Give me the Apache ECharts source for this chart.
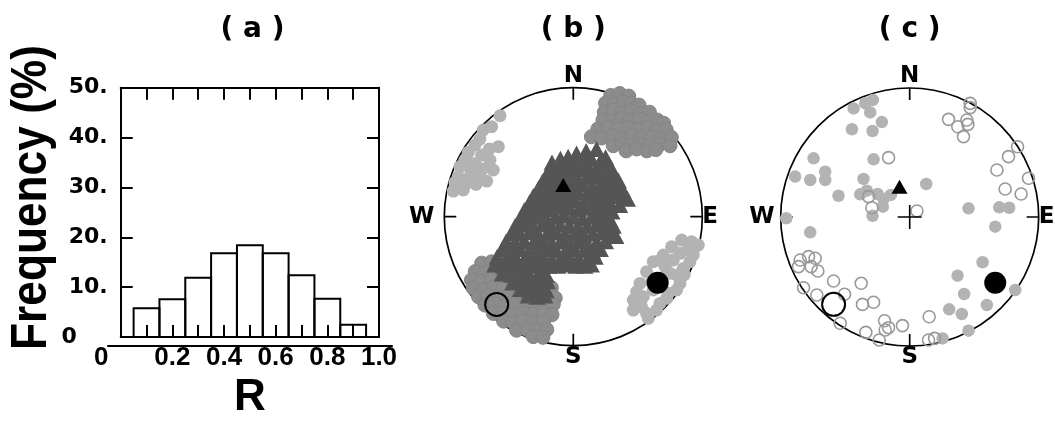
<!DOCTYPE html>
<html><head><meta charset="utf-8">
<script src="https://cdn.jsdelivr.net/npm/echarts/dist/echarts.min.js"></script>
<style>html,body{margin:0;padding:0;background:#fff}#chart{width:1055px;height:425px}</style>
</head><body><div id="chart"></div>
<script>
// ---------- (a) histogram of R ----------
const binCenters = [0.1, 0.2, 0.3, 0.4, 0.5, 0.6, 0.7, 0.8, 0.9];
const binWidth = 0.1;
const frequency = [5.8, 7.6, 11.9, 16.8, 18.4, 16.8, 12.4, 7.7, 2.5];
const xTickLabels = ['0', '', '0.2', '', '0.4', '', '0.6', '', '0.8', '', '1.0'];
const yTickLabels = ['0', '10.', '20.', '30.', '40.', '50.'];
const compassLabels = ['N', 'E', 'S', 'W'];

// ---------- (b) stereonet (x = east, y = north, % of primitive radius) ----------
const bNWCircles = [[-56.8,78.3],[-63.3,69.8],[-69.8,67.2],[-72.4,60.2],[-76.2,55.6],[-65.1,52.5],[-58.1,54.3],[-81.4,49.9],[-71.1,47.8],[-64.6,43.9],[-84.0,43.9],[-76.2,41.3],[-87.9,38.8],[-79.6,36.2],[-70.3,37.0],[-62.0,36.2],[-89.1,31.0],[-81.4,29.7],[-72.9,32.3],[-67.2,27.6],[-91.7,26.6],[-84.0,24.5],[-75.5,25.1],[-93.0,19.9],[-85.3,20.7]];
const bSECircles = [[84.0,-18.1],[91.7,-19.4],[96.9,-22.0],[76.2,-23.3],[89.1,-25.8],[82.7,-28.4],[93.0,-29.7],[69.8,-29.7],[77.5,-33.6],[90.4,-34.9],[62.0,-34.9],[71.1,-38.8],[85.3,-40.1],[56.8,-42.6],[80.1,-45.2],[51.7,-51.7],[60.7,-50.4],[82.7,-51.7],[49.1,-58.1],[54.3,-62.0],[73.6,-59.4],[80.1,-56.8],[46.5,-64.6],[53.0,-69.8],[67.2,-67.2],[72.4,-63.3],[46.5,-72.4],[56.8,-74.9],[64.6,-72.4],[58.1,-78.8],[67.2,-33.6],[74.9,-43.9],[62.0,-56.8],[68,-48],[86,-45]];
const bNEClouds = [[29,94],[36,95.5],[43,93.5],[25,88],[32,87],[39,89],[45,88],[51,86.5],[24,81],[31,82.5],[38,80.5],[45,82],[52,80],[59,81],[23,75],[30,74],[37,76],[44,74.5],[51,75.5],[58,74],[65,75],[70,72.5],[19,68],[27,69.5],[35,68],[43,69],[50,67.5],[58,69],[65,67],[72,67.5],[14,62],[22,61],[30,62.5],[37.5,61],[45,63],[53,61.5],[61,62],[68,60.5],[76,61.5],[31,55],[38,56.5],[44,55],[52,56],[59,54.5],[67,56],[75,55],[41,51],[49,52.5],[57,51],[64,52]];
const bSWClouds = [[-71,-36],[-63.5,-35],[-76,-42.5],[-68.5,-43.5],[-61,-42],[-53,-43],[-79,-49],[-71,-50],[-63.5,-48.5],[-55.5,-50],[-48,-49],[-77.5,-55.5],[-70,-56.5],[-62,-55],[-54.5,-56],[-46.5,-55],[-39,-56.5],[-31,-55.5],[-23.5,-56],[-17,-55],[-73.5,-62],[-66,-61],[-58,-62.5],[-50.5,-61.5],[-42.5,-62.5],[-35,-61.5],[-27,-62.5],[-19.5,-61.5],[-14,-63],[-68.5,-68.5],[-61,-67.5],[-53,-69],[-45,-68],[-37.5,-69],[-29.5,-68],[-22,-69.5],[-15.5,-68],[-62,-75],[-54.5,-74.5],[-46.5,-75.5],[-39,-74.5],[-31,-75.5],[-23.5,-74.5],[-16.5,-76],[-54,-81],[-46.5,-82],[-39,-81],[-31,-82],[-23,-81.5],[-44,-88],[-36,-87.5],[-28.5,-88.5],[-20.5,-87.5],[-31,-93],[-23.5,-93.5]];
const bTriangles = [
[-16.5,42],[-10,45],[-4,46.5],[2.5,49],[10,51],[18,52.5],[25,46],
[-18,37],[-12,39],[-6,41],[1,42],[8,44],[14,45],[21,43],[28,40],
[-21,32],[-14,34],[-8,35],[-1,36],[6,37],[12,38],[19,37],[25,35],[31,34],
[-24,27],[-17,28],[-10,29],[-4,30],[3,30],[10,31],[16,31],[23,29],[29,28],[35,28],
[-27,22],[-21,23],[-14,23],[-7,24],[0,24],[7,25],[14,24],[20,23],[27,22],[33,22],[38,21],
[-31,16],[-24,17],[-17,17],[-10,18],[-3,18],[4,19],[11,18],[18,17],[24,16],[31,16],[37,17],[42,14],
[-34,11],[-27,11],[-20,12],[-13,12],[-6,12],[1,13],[8,12],[15,11],[22,11],[29,10],[36,9],
[-38,5],[-31,6],[-24,6],[-17,6],[-10,7],[-3,7],[4,6],[11,7],[18,6],[25,5],[30,4],
[-41,-1],[-35,0],[-28,0],[-21,-1],[-14,0],[-7,1],[0,0],[7,-1],[14,0],[21,-1],[28,-2],
[-45,-7],[-38,-6],[-31,-7],[-24,-6],[-17,-7],[-10,-6],[-3,-7],[4,-8],[11,-7],[18,-6],[25,-8],[31,-7],
[-48,-13],[-41,-13],[-34,-12],[-27,-14],[-20,-13],[-13,-12],[-6,-14],[1,-13],[8,-14],[15,-13],[22,-12],[29,-14],[33,-15],
[-52,-19],[-45,-20],[-38,-19],[-31,-20],[-24,-19],[-17,-20],[-10,-19],[-3,-20],[4,-19],[11,-21],[18,-20],[25,-19],
[-55,-25],[-48,-26],[-41,-25],[-34,-27],[-27,-26],[-20,-25],[-13,-26],[-6,-27],[1,-25],[8,-26],[15,-27],[21,-25],
[-59,-31],[-52,-32],[-45,-31],[-38,-33],[-31,-32],[-24,-31],[-17,-32],[-10,-33],[-3,-31],[4,-32],[11,-33],[17,-31],
[-61,-37],[-54,-38],[-47,-37],[-40,-39],[-33,-38],[-26,-37],[-19,-38],[-12,-38],[-5,-37],[2,-38],[9,-38],[14,-37],
[-55,-44],[-48,-45],[-41,-44],[-34,-45],[-27,-44],[-21,-45],
[-47,-51],[-40,-50],[-33,-51],[-26,-50],[-20,-50],
[-41,-56],[-34,-57],[-27,-56],[-21,-57],
[-35,-61],[-28,-62],[-22,-61]];
const bBestTriangle = [[-7.8, 24.5]];
const bBestCircle = [[65.4, -51.2]];
const bBestOpen = [[-59.4, -68.0]];

// ---------- (c) stereonet ----------
const cFilled = [[-43.5,84.2],[-34.5,88.1],[-28.6,90.7],[-30.6,81.1],[-21.6,73.6],[-44.8,68.0],[-28.8,66.7],[-74.5,45.5],[-28.0,44.7],[-65.5,35.1],[-65.5,28.7],[-88.8,31.3],[-77.1,28.7],[-35.8,29.5],[-55.2,16.5],[-38.4,17.6],[-33.2,20.4],[-24.9,17.8],[-20.3,14.0],[-14.6,17.1],[-20.8,8.0],[-28.8,1.0],[-95.7,-1.0],[-77.1,-11.9],[12.8,25.6],[45.6,6.7],[69.4,7.5],[77.1,7.2],[66.3,-7.5],[56.5,-35.1],[37.1,-45.5],[42.2,-59.7],[59.8,-68.2],[81.8,-56.6],[30.6,-71.6],[40.4,-75.2],[45.6,-88.1],[25.5,-94.1]];
const cOpen = [[-16.4,46.0],[-31.9,15.8],[-29.3,7.2],[5.6,4.7],[46.9,88.1],[46.9,84.8],[30.1,75.7],[37.3,70.0],[44.3,75.2],[45.1,71.8],[41.7,62.3],[83.6,54.5],[76.6,46.8],[67.6,36.4],[92.1,30.0],[74.0,21.7],[86.4,17.8],[-84.9,-33.3],[-78.4,-30.7],[-73.3,-32.0],[-86.2,-38.5],[-76.4,-38.5],[-71.2,-41.9],[-82.3,-54.8],[-72.0,-60.5],[-59.0,-49.6],[-37.6,-51.4],[-50.5,-59.9],[-36.6,-67.7],[-28.0,-66.1],[-53.9,-82.4],[-34.0,-89.4],[-23.6,-95.3],[-19.0,-87.6],[-16.4,-85.8],[-5.6,-84.2],[-19.5,-80.4],[15.1,-77.3],[14.6,-95.3],[19.3,-94.1]];
const cBestTriangle = [[-7.9, 23.5]];
const cBestCircle = [[66.3, -50.9]];
const cBestOpen = [[-59.0, -67.7]];
const cCenter = [[0, 0]];

// ---------- chart ----------
const chart = echarts.init(document.getElementById('chart'));
const BLACK = '#000';
const lineW = 2;

function netAxes(gridIndex) {
  return {
    x: {gridIndex, type: 'value', min: -100, max: 100, show: false},
    y: {gridIndex, type: 'value', min: -100, max: 100, show: false}
  };
}
function pts(axisIdx, data, symbol, size, style, z) {
  return {type: 'scatter', xAxisIndex: axisIdx, yAxisIndex: axisIdx, data, symbol, symbolSize: size,
    itemStyle: Object.assign({opacity: 1}, style), silent: true, z: z || 2, clip: false, emphasis: {disabled: true}};
}
function angleAxis(polarIndex, westPad) {
  const font = {color: BLACK, fontFamily: 'DejaVu Sans', fontWeight: 'bold', fontSize: 23};
  return {
    polarIndex, type: 'value', min: 0, max: 360, interval: 90, startAngle: 90, clockwise: true,
    axisLine: {show: true, lineStyle: {color: BLACK, width: 1.7}},
    axisTick: {show: true, inside: true, length: 12, lineStyle: {color: BLACK, width: 1.7}},
    splitLine: {show: false}, splitArea: {show: false},
    axisLabel: Object.assign({
      margin: 0,
      formatter: v => { const i = Math.round(v / 90) % 4; const s = compassLabels[i]; return i === 3 ? '{w|' + s + '}' : s; },
      rich: {w: Object.assign({padding: [0, westPad, 0, 0]}, font)}
    }, font)
  };
}
const nb = netAxes(2), nc = netAxes(3);
const titleFont = 'bold 28px "DejaVu Sans"';

const option = {
  animation: false,
  backgroundColor: '#fff',
  grid: [
    {left: 120.7, top: 87.7, width: 258.3, height: 258},
    {left: 108, top: 87.7, width: 284, height: 258},
    {left: 444.3, top: 87.7, width: 258, height: 258},
    {left: 780.7, top: 88, width: 258, height: 258}
  ],
  xAxis: [
    {gridIndex: 0, type: 'value', min: 0, max: 1, interval: 0.1, position: 'bottom',
      axisLine: {show: true, onZero: false, lineStyle: {color: BLACK, width: lineW}},
      axisTick: {show: true, inside: true, length: 12, lineStyle: {color: BLACK, width: lineW}},
      splitLine: {show: false},
      axisLabel: {margin: 8, color: BLACK, fontFamily: 'Liberation Sans', fontWeight: 'bold', fontSize: 26,
        formatter: v => { const i = Math.round(v * 10); const s = xTickLabels[i] || ''; return i === 0 ? '{z|' + s + '}' : s; },
        rich: {z: {padding: [0, 39, 0, 0], color: BLACK, fontFamily: 'Liberation Sans', fontWeight: 'bold', fontSize: 26}}},
      name: 'R', nameLocation: 'middle', nameGap: 38,
      nameTextStyle: {color: BLACK, fontFamily: 'Liberation Sans', fontWeight: 'bold', fontSize: 44}},
    {gridIndex: 0, type: 'value', min: 0, max: 1, interval: 0.1, position: 'top',
      axisLine: {show: true, onZero: false, lineStyle: {color: BLACK, width: lineW}},
      axisTick: {show: true, inside: true, length: 12, lineStyle: {color: BLACK, width: lineW}},
      axisLabel: {show: false}, splitLine: {show: false}},
    {gridIndex: 1, type: 'value', min: -0.05, max: 1.05, position: 'bottom',
      axisLine: {show: true, onZero: false, lineStyle: {color: BLACK, width: lineW}},
      axisTick: {show: false}, axisLabel: {show: false}, splitLine: {show: false}},
    nb.x, nc.x
  ],
  yAxis: [
    {gridIndex: 0, type: 'value', min: 0, max: 50, interval: 10, position: 'left',
      axisLine: {show: true, onZero: false, lineStyle: {color: BLACK, width: lineW}},
      axisTick: {show: true, inside: true, length: 12, lineStyle: {color: BLACK, width: lineW}},
      splitLine: {show: false},
      axisLabel: {margin: 13, color: BLACK, fontFamily: 'DejaVu Sans', fontWeight: 'bold', fontSize: 22,
        formatter: v => { const i = Math.round(v / 10); const s = yTickLabels[i]; return i === 0 ? '{z|' + s + '}' : s; },
        rich: {z: {padding: [0, 31, 0, 0], color: BLACK, fontFamily: 'DejaVu Sans', fontWeight: 'bold', fontSize: 22}}}},
    {gridIndex: 0, type: 'value', min: 0, max: 50, interval: 10, position: 'right',
      axisLine: {show: true, onZero: false, lineStyle: {color: BLACK, width: lineW}},
      axisTick: {show: true, inside: true, length: 12, lineStyle: {color: BLACK, width: lineW}},
      axisLabel: {show: false}, splitLine: {show: false}},
    {gridIndex: 1, type: 'value', min: 0, max: 50, show: false},
    nb.y, nc.y
  ],
  polar: [
    {center: [573.3, 216.7], radius: 129},
    {center: [909.7, 217], radius: 129}
  ],
  angleAxis: [angleAxis(0, 10), angleAxis(1, 6)],
  radiusAxis: [
    {polarIndex: 0, type: 'value', min: 0, max: 100, show: false},
    {polarIndex: 1, type: 'value', min: 0, max: 100, show: false}
  ],
  graphic: [
    {type: 'text', x: 252.5, y: 30, style: {text: '( a )', font: titleFont, fill: BLACK, align: 'center', verticalAlign: 'middle'}},
    {type: 'text', x: 573.3, y: 30, style: {text: '( b )', font: titleFont, fill: BLACK, align: 'center', verticalAlign: 'middle'}},
    {type: 'text', x: 909.7, y: 30, style: {text: '( c )', font: titleFont, fill: BLACK, align: 'center', verticalAlign: 'middle'}},
    {type: 'text', x: 32, y: 197.5, rotation: Math.PI / 2, scaleX: 0.885,
      style: {text: 'Frequency (%)', font: 'bold 50px "Liberation Sans"', fill: BLACK, align: 'center', verticalAlign: 'middle'}}
  ],
  series: [
    {type: 'custom', xAxisIndex: 0, yAxisIndex: 0, silent: true, z: 3,
      data: binCenters.map((c, i) => [c, frequency[i]]),
      renderItem: (params, api) => {
        const c = api.value(0), f = api.value(1);
        const p0 = api.coord([c - binWidth / 2, 0]);
        const p1 = api.coord([c + binWidth / 2, f]);
        return {type: 'rect', shape: {x: p0[0], y: p1[1], width: p1[0] - p0[0], height: p0[1] - p1[1]},
          style: {fill: 'none', stroke: BLACK, lineWidth: lineW}};
      }},
    // (b)
    pts(3, bNEClouds, 'circle', 14, {color: '#8c8c8c', borderColor: '#858585', borderWidth: 1}, 2),
    pts(3, bSWClouds, 'circle', 14, {color: '#8c8c8c', borderColor: '#858585', borderWidth: 1}, 2),
    pts(3, bNWCircles, 'circle', 13, {color: '#b3b3b3'}, 3),
    pts(3, bSECircles, 'circle', 13, {color: '#b3b3b3'}, 3),
    pts(3, bTriangles, 'triangle', [17, 16], {color: '#555555'}, 4),
    pts(3, bBestTriangle, 'triangle', [16, 14], {color: BLACK}, 5),
    pts(3, bBestCircle, 'circle', 22, {color: BLACK}, 5),
    pts(3, bBestOpen, 'circle', 23, {color: 'rgba(0,0,0,0)', borderColor: BLACK, borderWidth: 2}, 5),
    // (c)
    pts(4, cFilled, 'circle', 12.5, {color: '#b3b3b3'}, 3),
    pts(4, cOpen, 'circle', 12, {color: 'rgba(0,0,0,0)', borderColor: '#999999', borderWidth: 1.6}, 4),
    pts(4, cCenter, 'path://M0,12L24,12M12,0L12,24', 24, {color: 'rgba(0,0,0,0)', borderColor: BLACK, borderWidth: 1.6}, 5),
    pts(4, cBestTriangle, 'triangle', [16, 14], {color: BLACK}, 5),
    pts(4, cBestCircle, 'circle', 22, {color: BLACK}, 5),
    pts(4, cBestOpen, 'circle', 23, {color: 'rgba(0,0,0,0)', borderColor: BLACK, borderWidth: 2}, 5)
  ]
};
chart.setOption(option);
</script></body></html>
